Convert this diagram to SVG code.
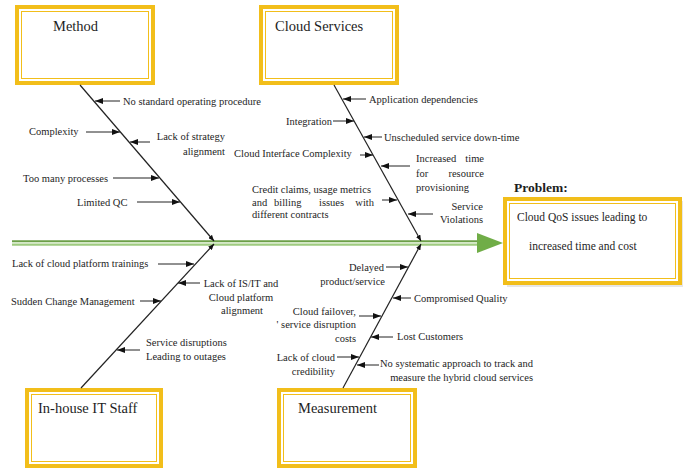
<svg xmlns="http://www.w3.org/2000/svg" width="683" height="470" viewBox="0 0 683 470">
  <style>
    .box-outer { fill: #ffffff; stroke: #F2BE1A; stroke-width: 4; }
    .box-inner { fill: none; stroke: #F2BE1A; stroke-width: 1; }
    .title { font-family: "Liberation Serif", "Times New Roman", serif; font-size: 14.5px; fill: #1e1e1e; }
    .lbl { font-family: "Liberation Serif", "Times New Roman", serif; font-size: 10.5px; fill: #1e1e1e; }
    .end { text-anchor: end; }
    .mid { text-anchor: middle; }
    .bone { stroke: #222222; stroke-width: 1.2; fill: none; }
    .cause { stroke: #222222; stroke-width: 1; fill: none; marker-end: url(#tip); }
  </style>
  <defs>
    <marker id="tip" markerUnits="userSpaceOnUse" markerWidth="8" markerHeight="6" refX="8" refY="3" orient="auto">
      <path d="M0,0 L8,3 L0,6 z" fill="#111111"/>
    </marker>
    <marker id="boneTip" markerUnits="userSpaceOnUse" markerWidth="6" markerHeight="5" refX="6" refY="2.5" orient="auto">
      <path d="M0,0 L6,2.5 L0,5 z" fill="#111111"/>
    </marker>
  </defs>
  <rect width="683" height="470" fill="#ffffff"/>

  <!-- spine with head arrow -->
  <g id="spine">
    <line x1="12" y1="241.3" x2="480" y2="241.3" stroke="#6c9f48" stroke-width="2"/>
    <line x1="12" y1="243" x2="480" y2="243" stroke="#d3e8c4" stroke-width="1.4"/>
    <line x1="12" y1="244.7" x2="480" y2="244.7" stroke="#9fcb80" stroke-width="2"/>
    <polygon points="477,233 503,243 477,253" fill="#70AD47"/>
  </g>

  <!-- category boxes -->
  <g id="method">
    <rect class="box-outer" x="17" y="7" width="136" height="76"/>
    <rect class="box-inner" x="21.5" y="11.5" width="127" height="67"/>
    <text class="title" x="53" y="31">Method</text>
  </g>
  <g id="cloud-services">
    <rect class="box-outer" x="261" y="7" width="136" height="76"/>
    <rect class="box-inner" x="265.5" y="11.5" width="127" height="67"/>
    <text class="title" x="275" y="31">Cloud Services</text>
  </g>
  <g id="inhouse-it-staff">
    <rect class="box-outer" x="27" y="390" width="134" height="76"/>
    <rect class="box-inner" x="31.5" y="394.5" width="125" height="67"/>
    <text class="title" x="38" y="413">In-house IT Staff</text>
  </g>
  <g id="measurement">
    <rect class="box-outer" x="279" y="390" width="136" height="76"/>
    <rect class="box-inner" x="283.5" y="394.5" width="127" height="67"/>
    <text class="title" x="298" y="413">Measurement</text>
  </g>
  <g id="problem">
    <text x="514" y="192" font-family="'Liberation Serif', 'Times New Roman', serif" font-size="13.5" font-weight="bold" fill="#1e1e1e">Problem:</text>
    <rect x="507" y="201" width="176" height="86" fill="#d6d6d6" opacity="0.6"/>
    <rect class="box-outer" x="505" y="199" width="175" height="84"/>
    <rect class="box-inner" x="509.5" y="203.5" width="166" height="75"/>
    <text x="517" y="221" font-family="'Liberation Serif', 'Times New Roman', serif" font-size="11.5" fill="#1e1e1e">Cloud QoS issues leading to</text>
    <text x="529" y="250" font-family="'Liberation Serif', 'Times New Roman', serif" font-size="11.5" fill="#1e1e1e">increased time and cost</text>
  </g>

  <!-- bones and cause arrows -->
  <g id="connectors">
    <line class="bone" x1="80" y1="85" x2="214" y2="241" marker-end="url(#boneTip)"/>
    <line class="bone" x1="334" y1="85" x2="421" y2="241" marker-end="url(#boneTip)"/>
    <line class="bone" x1="81" y1="388" x2="214" y2="244" marker-end="url(#boneTip)"/>
    <line class="bone" x1="343" y1="388" x2="421" y2="244" marker-end="url(#boneTip)"/>

    <!-- Method -->
    <line class="cause" x1="120" y1="101" x2="95" y2="101"/>
    <line class="cause" x1="86" y1="132" x2="120" y2="132"/>
    <line class="cause" x1="150" y1="142" x2="130" y2="142"/>
    <line class="cause" x1="113" y1="178" x2="159" y2="178"/>
    <line class="cause" x1="137" y1="202" x2="180" y2="202"/>

    <!-- In-house IT Staff -->
    <line class="cause" x1="158" y1="264" x2="194" y2="264"/>
    <line class="cause" x1="200" y1="283" x2="178" y2="283"/>
    <line class="cause" x1="140" y1="301" x2="161" y2="301"/>
    <line class="cause" x1="140" y1="350" x2="117" y2="350"/>

    <!-- Cloud Services -->
    <line class="cause" x1="366" y1="99" x2="343" y2="99"/>
    <line class="cause" x1="333" y1="121" x2="354" y2="121"/>
    <line class="cause" x1="382" y1="137" x2="364" y2="137"/>
    <line class="cause" x1="360" y1="155" x2="373" y2="155"/>
    <line class="cause" x1="410" y1="166" x2="381" y2="166"/>
    <line class="cause" x1="382" y1="200" x2="397" y2="200"/>
    <line class="cause" x1="433" y1="214" x2="408" y2="214"/>

    <!-- Measurement -->
    <line class="cause" x1="386" y1="267" x2="408" y2="267"/>
    <line class="cause" x1="411" y1="298" x2="393" y2="298"/>
    <line class="cause" x1="359" y1="316" x2="381" y2="316"/>
    <line class="cause" x1="393" y1="337" x2="371" y2="337"/>
    <line class="cause" x1="337" y1="357" x2="359" y2="357"/>
    <line class="cause" x1="379" y1="365" x2="357" y2="365"/>
  </g>

  <!-- cause labels -->
  <g id="labels-method">
    <text class="lbl" x="123" y="105">No standard operating procedure</text>
    <text class="lbl" x="29" y="135">Complexity</text>
    <text class="lbl end" x="225" y="140">Lack of strategy</text>
    <text class="lbl end" x="225" y="155">alignment</text>
    <text class="lbl" x="23" y="182">Too many processes</text>
    <text class="lbl" x="77" y="206">Limited QC</text>
  </g>
  <g id="labels-inhouse">
    <text class="lbl" x="12" y="267">Lack of cloud platform trainings</text>
    <text class="lbl mid" x="241" y="287">Lack of IS/IT and</text>
    <text class="lbl mid" x="241" y="301">Cloud platform</text>
    <text class="lbl mid" x="242" y="314">alignment</text>
    <text class="lbl" x="11" y="305">Sudden Change Management</text>
    <text class="lbl" x="146" y="346">Service disruptions</text>
    <text class="lbl" x="146" y="360">Leading to outages</text>
  </g>
  <g id="labels-cloud">
    <text class="lbl" x="369" y="103">Application dependencies</text>
    <text class="lbl" x="286" y="125">Integration</text>
    <text class="lbl" x="384" y="141">Unscheduled service down-time</text>
    <text class="lbl" x="234" y="157">Cloud Interface Complexity</text>
    <text class="lbl" x="416" y="162">Increased</text>
    <text class="lbl end" x="484" y="162">time</text>
    <text class="lbl" x="416" y="177">for</text>
    <text class="lbl end" x="484" y="177">resource</text>
    <text class="lbl" x="416" y="191">provisioning</text>
    <text class="lbl" x="252" y="193">Credit claims, usage metrics</text>
    <text class="lbl" x="252" y="205.5">and</text>
    <text class="lbl" x="274" y="205.5">billing</text>
    <text class="lbl" x="319" y="205.5">issues</text>
    <text class="lbl end" x="374" y="205.5">with</text>
    <text class="lbl" x="252" y="218">different contracts</text>
    <text class="lbl end" x="483" y="210">Service</text>
    <text class="lbl end" x="483" y="223">Violations</text>
  </g>
  <g id="labels-measurement">
    <text class="lbl end" x="384" y="271">Delayed</text>
    <text class="lbl end" x="385" y="285">product/service</text>
    <text class="lbl" x="414" y="302">Compromised Quality</text>
    <text class="lbl end" x="356" y="315">Cloud failover,</text>
    <text class="lbl end" x="356" y="328">' service disruption</text>
    <text class="lbl end" x="356" y="342">costs</text>
    <text class="lbl" x="397" y="340">Lost Customers</text>
    <text class="lbl end" x="335" y="361">Lack of cloud</text>
    <text class="lbl end" x="335" y="375">credibility</text>
    <text class="lbl end" x="533" y="367">No systematic approach to track and</text>
    <text class="lbl end" x="533" y="381">measure the hybrid cloud services</text>
  </g>
</svg>
